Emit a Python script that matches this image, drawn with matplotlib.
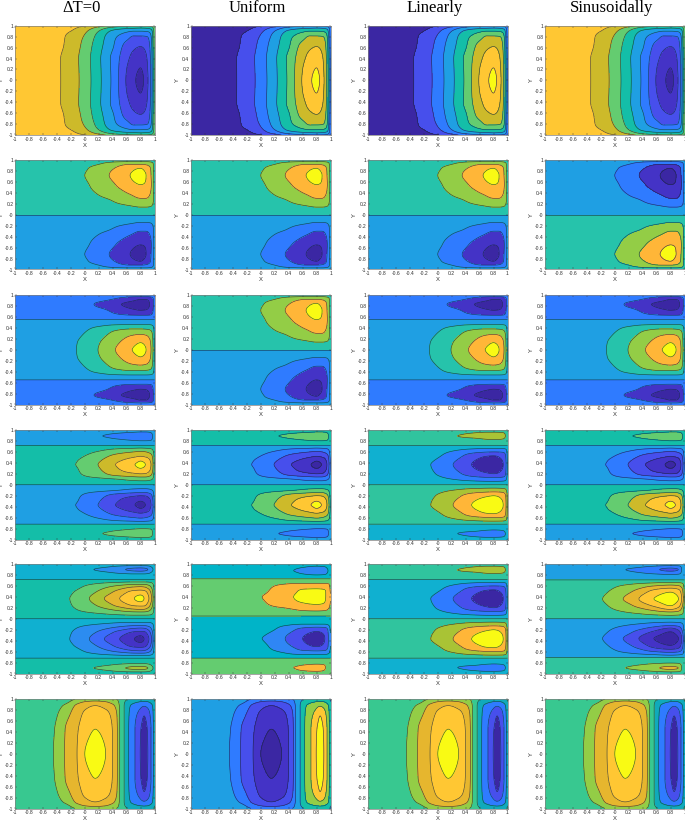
import numpy as np
import matplotlib
matplotlib.use("Agg")
import matplotlib.pyplot as plt

col_titles = ["\u0394T=0", "Uniform", "Linearly", "Sinusoidally"]

# colours
deep = "#3b27a3"
indigo = "#4433c6"
blue1 = "#474fec"
blue2 = "#2f7bff"
blue3 = "#1f9fe3"
cyan = "#10b0d0"
teal = "#14bea8"
tgreen = "#26c3ab"
sea = "#30c49e"
green = "#64cc70"
lime = "#93cd46"
olive = "#a9c335"
gold = "#cdba2a"
amber = "#e6b62e"
orange = "#ffb638"
sun = "#ffc733"
yellow = "#f9fa14"

# ---- field values, in band numbers ----
# row 1, upper half, mirrored
a_x = [-1, -0.4, -0.2, 0, 0.2, 0.4, 0.6, 0.7, 0.8, 0.9, 0.95, 1]
a_y = [0, 0.2, 0.4, 0.62, 0.8, 0.9, 0.97, 1]
a_z = [
    [8, 7.6, 7.05, 6.05, 4.75, 3.3, 1.4, 0.7, 0.2, 1.35, 2.7, 5.9],
    [8, 7.6, 7.04, 6.03, 4.73, 3.28, 1.5, 0.85, 0.45, 1.45, 2.75, 5.9],
    [8, 7.6, 7.02, 6.0, 4.7, 3.25, 1.75, 1.15, 0.8, 1.6, 2.8, 5.9],
    [8, 7.7, 7.15, 6.15, 4.85, 3.6, 2.1, 1.7, 1.5, 1.95, 3.0, 6],
    [8, 7.8, 7.2, 6.4, 5.1, 3.8, 2.9, 2.4, 2.4, 2.5, 3.4, 6],
    [8, 7.85, 7.5, 6.7, 5.5, 4.3, 3.7, 3.5, 3.5, 3.6, 4, 6],
    [8, 7.95, 7.75, 7.2, 6.3, 5.4, 5.0, 4.9, 4.8, 4.9, 5.1, 6],
    [8, 8, 7.9, 7.6, 7, 6.2, 5.8, 5.7, 5.7, 5.7, 5.8, 6],
]

# row 2, upper half, lower half is 7 - z
b_x = [-1, -0.5, 0, 0.2, 0.35, 0.5, 0.65, 0.8, 0.88, 0.95, 0.98, 1]
b_y = [0, 0.03, 0.14, 0.3, 0.45, 0.55, 0.72, 0.85, 0.92, 0.97, 1]
b_z = [
    [3.5] * 12,
    [4, 4, 4.05, 4.05, 4.1, 4.1, 4.1, 4.1, 4.1, 4.1, 4.05, 4],
    [4, 4, 4.1, 4.15, 4.2, 4.3, 4.4, 4.5, 4.5, 4.45, 4.3, 4],
    [4, 4, 4.2, 4.4, 4.55, 4.9, 5.2, 5.5, 5.5, 5.2, 4.7, 4.1],
    [4, 4, 4.35, 4.65, 5.0, 5.4, 5.8, 6.1, 6.0, 5.5, 4.8, 4.1],
    [4, 4, 4.4, 4.8, 5.2, 5.7, 6.2, 6.5, 6.4, 5.6, 4.85, 4.1],
    [4, 4.05, 4.5, 5.0, 5.5, 6.0, 6.5, 6.9, 6.5, 5.5, 4.8, 4.1],
    [4, 4, 4.4, 4.9, 5.3, 5.7, 6.2, 6.5, 6.1, 5.4, 4.7, 4.1],
    [4, 4, 4.2, 4.5, 4.9, 5.3, 5.5, 5.5, 5.4, 5.0, 4.6, 4.1],
    [4, 4, 4.05, 4.2, 4.35, 4.45, 4.5, 4.5, 4.5, 4.4, 4.3, 4.05],
    [4] * 12,
]

# row 3, upper half, mirrored
c_x = [-1, -0.5, -0.12, 0.19, 0.44, 0.68, 0.8, 0.88, 0.95, 0.98, 1]
c_y = [0, 0.13, 0.28, 0.38, 0.46, 0.52, 0.55, 0.58, 0.63, 0.72, 0.83, 0.92, 0.97, 1]
c_z = [
    [3, 3.15, 3.5, 4.5, 5.5, 6.5, 7, 6.5, 5.5, 4.5, 3.2],
    [3, 3.15, 3.48, 4.4, 5.3, 6.1, 6.5, 6.2, 5.4, 4.4, 3.2],
    [3, 3.1, 3.35, 4.05, 4.85, 5.4, 5.5, 5.4, 4.9, 4.2, 3.15],
    [3, 3.05, 3.2, 3.75, 4.3, 4.5, 4.5, 4.45, 4.3, 3.9, 3.1],
    [3, 3, 3.05, 3.25, 3.45, 3.5, 3.5, 3.5, 3.45, 3.3, 3.05],
    [2.85] * 11,
    [2.5] * 11,
    [2.15, 2.15, 2.15, 2.1, 2.05, 2.0, 2.0, 2.0, 2.0, 2.05, 2.15],
    [2, 2, 2, 1.9, 1.65, 1.52, 1.5, 1.5, 1.55, 1.75, 2],
    [2, 2, 2, 1.75, 1.25, 0.65, 0.5, 0.55, 0.95, 1.5, 1.95],
    [2, 2, 2, 1.35, 0.7, 0.2, 0.1, 0.2, 0.7, 1.4, 1.9],
    [2, 2, 2, 1.8, 1.4, 0.8, 0.5, 0.5, 0.9, 1.4, 1.9],
    [2, 2, 2, 1.95, 1.75, 1.55, 1.5, 1.5, 1.6, 1.75, 1.95],
    [2] * 11,
]

# row 4 columns 1, 2, 4, upper half, lower half is 9 - z
d_x = [-1, -0.5, -0.13, 0.19, 0.44, 0.72, 0.8, 0.87, 0.95, 0.98, 1]
d_y = [0, 0.04, 0.1, 0.2, 0.3, 0.37, 0.44, 0.52, 0.61, 0.67, 0.72, 0.76, 0.82, 0.89, 0.96, 1]
d_z = [
    [4.5] * 11,
    [5, 5, 5, 5.05, 5.1, 5.15, 5.15, 5.15, 5.15, 5.1, 5],
    [5, 5.05, 5.2, 5.3, 5.45, 5.75, 5.8, 5.8, 5.6, 5.4, 5.05],
    [5, 5.1, 5.38, 6.1, 6.9, 7.4, 7.5, 7.45, 6.8, 6.0, 5.05],
    [5, 5.15, 5.45, 6.4, 7.35, 8.3, 8.5, 8.3, 7.4, 6.4, 5.1],
    [5, 5.15, 5.5, 6.5, 7.5, 8.5, 8.8, 8.5, 7.5, 6.5, 5.1],
    [5, 5.1, 5.45, 6.35, 7.25, 8.1, 8.45, 8.2, 7.3, 6.4, 5.1],
    [5, 5.05, 5.3, 6.0, 6.8, 7.35, 7.5, 7.35, 6.9, 6.1, 5.05],
    [5, 5, 5.1, 5.5, 6.0, 6.4, 6.5, 6.4, 6.0, 5.6, 5.05],
    [5, 5, 5, 5.1, 5.3, 5.45, 5.5, 5.45, 5.35, 5.2, 5],
    [4.5] * 11,
    [4] * 11,
    [4, 4, 4, 4, 3.65, 3.4, 3.35, 3.35, 3.45, 3.65, 4],
    [4, 4, 4, 3.6, 3.2, 3.0, 3.0, 3.0, 3.3, 3.6, 4],
    [4, 4, 4, 3.95, 3.7, 3.5, 3.45, 3.45, 3.55, 3.7, 4],
    [4] * 11,
]

# rows 4 and 5 column 3, upper half, lower half is 7 - z
e_x = [-1, -0.5, -0.1, 0.22, 0.485, 0.7, 0.8, 0.94, 0.98, 1]
e_y = [0, 0.04, 0.1, 0.2, 0.37, 0.53, 0.6, 0.665, 0.72, 0.76, 0.82, 0.89, 0.96, 1]
e_z = [
    [3.5] * 10,
    [3, 3, 2.95, 2.9, 2.85, 2.8, 2.8, 2.85, 2.9, 3],
    [3, 2.95, 2.8, 2.5, 2.2, 2.05, 2.0, 2.1, 2.4, 2.95],
    [3, 2.9, 2.6, 1.9, 1.05, 0.6, 0.5, 0.85, 1.7, 2.9],
    [3, 2.85, 2.5, 1.5, 0.5, 0.05, 0, 0.5, 1.5, 2.85],
    [3, 2.95, 2.75, 2.05, 1.05, 0.55, 0.5, 0.9, 1.7, 2.9],
    [3, 3, 2.85, 2.4, 1.8, 1.55, 1.5, 1.6, 2.0, 2.9],
    [3, 3, 3, 2.85, 2.65, 2.52, 2.5, 2.55, 2.7, 2.95],
    [3.5] * 10,
    [4] * 10,
    [4, 4, 4, 4, 4.1, 4.4, 4.45, 4.4, 4.2, 4],
    [4, 4, 4, 4.4, 4.85, 5, 5, 4.7, 4.4, 4],
    [4, 4, 4, 4.05, 4.35, 4.5, 4.5, 4.45, 4.3, 4],
    [4] * 10,
]

# row 5 column 1, upper half, lower half is 11 - z
f_x = [-1, -0.5, -0.215, 0.065, 0.28, 0.5, 0.71, 0.8, 0.85, 0.92, 0.96, 0.98, 1]
f_y = [0, 0.04, 0.1, 0.17, 0.25, 0.37, 0.48, 0.57, 0.65, 0.72, 0.76, 0.82, 0.9, 0.97, 1]
f_z = [
    [5.5] * 13,
    [6, 6, 6, 6.02, 6.05, 6.1, 6.15, 6.15, 6.15, 6.15, 6.1, 6.05, 6],
    [6, 6.05, 6.2, 6.4, 6.6, 6.85, 7, 7, 7, 6.9, 6.7, 6.5, 6.05],
    [6, 6.1, 6.35, 6.85, 7.3, 7.85, 8.4, 8.5, 8.45, 7.9, 7.3, 6.9, 6.1],
    [6, 6.15, 6.45, 7.2, 7.95, 8.9, 9.65, 9.75, 9.7, 8.9, 7.9, 7.2, 6.1],
    [6, 6.2, 6.5, 7.5, 8.5, 9.5, 10.5, 10.9, 10.5, 9.5, 8.5, 7.5, 6.1],
    [6, 6.1, 6.4, 7.2, 8.0, 9.0, 9.9, 10, 9.9, 9.1, 8.1, 7.3, 6.1],
    [6, 6.05, 6.2, 6.8, 7.4, 8.1, 8.7, 8.8, 8.7, 8.1, 7.4, 6.9, 6.05],
    [6, 6, 6.05, 6.3, 6.55, 6.8, 7, 7, 7, 6.85, 6.6, 6.4, 6],
    [5.5] * 13,
    [5] * 13,
    [5, 5, 5, 5, 4.85, 4.6, 4.5, 4.5, 4.5, 4.6, 4.8, 4.9, 5],
    [5, 5, 5, 4.6, 4.2, 3.7, 3.2, 3.1, 3.2, 3.6, 4.2, 4.5, 5],
    [5, 5, 5, 5, 4.85, 4.6, 4.5, 4.5, 4.5, 4.6, 4.8, 4.9, 5],
    [5] * 13,
]

# row 5 column 2, not symmetric so all of it
g_x = [-1, -0.5, 0.02, 0.2, 0.35, 0.47, 0.6, 0.8, 0.92, 0.97, 1]
g_y = [-1, -0.96, -0.89, -0.83, -0.77, -0.72, -0.62, -0.5, -0.36, -0.2, -0.1, 0,
       0.05, 0.09, 0.18, 0.28, 0.4, 0.5, 0.6, 0.69, 0.73, 0.76, 0.8, 0.88, 0.95, 1]
g_z = [
    [4] * 11,
    [4, 4, 4, 4, 4, 4.2, 4.4, 4.5, 4.4, 4.2, 4],
    [4, 4, 4, 4, 4.2, 4.5, 4.8, 5, 4.55, 4.15, 4],
    [4, 4, 4, 4, 4, 4.1, 4.35, 4.5, 4.45, 4.2, 4],
    [4] * 11,
    [3.5] * 11,
    [3, 3, 2.9, 2.7, 2.45, 2.2, 2.05, 2.0, 2.05, 2.3, 2.8],
    [3, 3, 2.7, 2.2, 1.75, 1.4, 0.8, 0.45, 0.7, 1.6, 2.6],
    [3, 2.95, 2.5, 2.0, 1.5, 1.05, 0.5, 0.1, 0.5, 1.5, 2.5],
    [3, 3, 2.8, 2.5, 2.0, 1.6, 1.1, 0.7, 0.9, 1.7, 2.7],
    [3, 3, 2.9, 2.75, 2.65, 2.55, 2.5, 2.5, 2.5, 2.6, 2.85],
    [3, 3, 3, 3, 3, 2.95, 2.9, 2.9, 2.9, 2.95, 3],
    [3.5] * 11,
    [3.95] * 11,
    [4, 4, 4.15, 4.3, 4.4, 4.55, 4.75, 4.85, 4.75, 4.5, 4.2],
    [4, 4.05, 4.4, 4.7, 4.95, 5.25, 5.45, 5.6, 5.45, 4.9, 4.4],
    [4, 4.1, 4.5, 4.8, 5.1, 5.5, 5.8, 6, 5.6, 5, 4.5],
    [4, 4.05, 4.35, 4.7, 5.0, 5.3, 5.7, 5.8, 5.6, 4.9, 4.4],
    [4, 4, 4.2, 4.5, 4.7, 4.85, 4.95, 5, 4.95, 4.75, 4.3],
    [4] * 11,
    [3.5] * 11,
    [3] * 11,
    [3, 3, 3, 3, 3, 2.9, 2.65, 2.5, 2.55, 2.75, 3],
    [3, 3, 3, 3, 2.8, 2.5, 2.2, 2.0, 2.2, 2.55, 3],
    [3, 3, 3, 3, 2.95, 2.8, 2.6, 2.4, 2.5, 2.75, 3],
    [3] * 11,
]

# row 5 column 4, upper half, lower half is 9 - z
h_x = [-1, -0.5, -0.175, 0.12, 0.345, 0.56, 0.8, 0.915, 0.96, 0.985, 1]
h_y = [0, 0.04, 0.1, 0.17, 0.25, 0.36, 0.5, 0.58, 0.65, 0.71, 0.75, 0.81, 0.9, 0.97, 1]
h_z = [
    [4.5] * 11,
    [5, 5, 5, 5.05, 5.1, 5.15, 5.2, 5.15, 5.1, 5.05, 5],
    [5, 5, 5.15, 5.35, 5.55, 5.8, 6.0, 5.9, 5.7, 5.4, 5],
    [5, 5.1, 5.3, 5.7, 6.2, 6.8, 7.5, 7.0, 6.3, 5.6, 5.05],
    [5, 5.15, 5.4, 6.05, 6.9, 7.75, 8.6, 7.9, 7.0, 6.0, 5.05],
    [5, 5.2, 5.5, 6.5, 7.5, 8.5, 9.0, 8.5, 7.5, 6.5, 5.1],
    [5, 5.1, 5.35, 6.05, 6.85, 7.8, 8.4, 7.9, 7.1, 6.1, 5.05],
    [5, 5.05, 5.2, 5.7, 6.2, 6.8, 7.1, 6.9, 6.4, 5.8, 5.05],
    [5, 5, 5.05, 5.2, 5.4, 5.6, 5.85, 5.7, 5.55, 5.35, 5],
    [4.5] * 11,
    [4] * 11,
    [4, 4, 4, 3.9, 3.75, 3.6, 3.5, 3.55, 3.7, 3.9, 4],
    [4, 4, 4, 3.55, 3.2, 2.7, 2.2, 2.5, 3.55, 3.8, 4],
    [4, 4, 4, 4, 3.85, 3.65, 3.5, 3.55, 3.7, 3.9, 4],
    [4] * 11,
]

# row 6, upper half, mirrored
k_x = [-1, -0.45, -0.29, -0.11, 0, 0.15, 0.3, 0.4, 0.47, 0.5, 0.565, 0.63, 0.72,
       0.795, 0.85, 0.905, 0.95, 0.985, 1]
k_y = [0, 0.45, 0.7, 0.88, 0.95, 1]
k_z = [
    [4, 4.5, 5.5, 6.5, 7.5, 8, 7.5, 6.5, 5.5, 4.5, 3.5, 2.5, 1.5, 0.5, 0, 0.5, 1.5, 2.5, 3.5],
    [4, 4.45, 5.45, 6.4, 7.0, 7.5, 7.1, 6.45, 5.45, 4.5, 3.5, 2.5, 1.5, 0.6, 0.2, 0.6, 1.5, 2.5, 3.5],
    [4, 4.3, 5.1, 6.1, 6.7, 7.0, 6.8, 6.25, 5.35, 4.5, 3.5, 2.55, 1.7, 1.1, 0.5, 1.0, 1.75, 2.6, 3.5],
    [4, 4.1, 4.6, 5.7, 6.2, 6.5, 6.2, 5.7, 5.0, 4.4, 3.5, 2.7, 2.1, 1.8, 1.6, 1.8, 2.2, 2.8, 3.5],
    [4, 4.02, 4.2, 5.1, 5.5, 5.65, 5.5, 5.1, 4.7, 4.25, 3.6, 3.1, 2.7, 2.5, 2.45, 2.5, 2.75, 3.1, 3.6],
    [4, 4, 4, 4.6, 5, 5.1, 5, 4.7, 4.4, 4.2, 3.8, 3.4, 3.1, 3, 3, 3, 3.1, 3.4, 3.7],
]

# band colours, lowest band first
a_cold = [deep, indigo, blue1, blue2, blue3, teal, green, gold, sun]
a_warm = [yellow, sun, gold, green, teal, blue3, blue2, blue1, deep]
b_pos = [deep, indigo, blue2, blue3, tgreen, lime, orange, yellow]
d_pos = [deep, indigo, blue1, blue2, blue3, teal, green, gold, sun, yellow]
e_col = [deep, blue1, blue2, cyan, sea, olive, orange, yellow]
f_col = [deep, indigo, blue1, "#3a6cfa", "#2c8cf0", cyan, teal, green, olive, amber, sun, yellow]
g_col = [deep, blue1, "#2f86f5", "#00b4c8", green, orange, yellow]
h_col = [deep, indigo, blue1, blue2, blue3, sea, lime, amber, sun, yellow]
k_col = [deep, blue1, blue2, "#10aabb", "#38c890", lime, amber, sun, yellow]
k_rev = [yellow, sun, lime, teal, blue3, blue2, blue1, indigo, deep]


def whole(ys, z, total=None):
    # lower half from the upper half, same values or total - z
    ys = np.array(ys, dtype=float)
    z = np.array(z, dtype=float)
    low = z[:0:-1] if total is None else total - z[:0:-1]
    return np.concatenate([-ys[:0:-1], ys]), np.vstack([low, z])


def pchip(new, xs, v):
    # shape preserving cubic, so the tops of the lobes come out round
    xs = np.asarray(xs, dtype=float)
    v = np.asarray(v, dtype=float)
    h = np.diff(xs)
    s = np.diff(v) / h
    m = np.zeros(len(v))
    for i in range(1, len(v) - 1):
        if s[i - 1] * s[i] > 0:
            w1 = 2 * h[i] + h[i - 1]
            w2 = h[i] + 2 * h[i - 1]
            m[i] = (w1 + w2) / (w1 / s[i - 1] + w2 / s[i])
    m[0] = s[0]
    m[-1] = s[-1]
    i = np.clip(np.searchsorted(xs, new) - 1, 0, len(h) - 1)
    t = (new - xs[i]) / h[i]
    return ((2 * t**3 - 3 * t**2 + 1) * v[i] + (t**3 - 2 * t**2 + t) * h[i] * m[i]
            + (3 * t**2 - 2 * t**3) * v[i + 1] + (t**3 - t**2) * h[i] * m[i + 1])


def finer(xs, ys, z):
    # contourf on the coarse table looks faceted, so round it off a little
    fx = np.linspace(-1, 1, 241)
    fy = np.linspace(-1, 1, 241)
    t = np.array([pchip(fx, xs, row) for row in z])
    t = np.array([pchip(fy, ys, t[:, j]) for j in range(t.shape[1])]).T
    n = 1
    w = np.ones(2 * n + 1) / (2 * n + 1)
    for axis in (0, 1):
        t = np.pad(t, [(n, n) if i == axis else (0, 0) for i in (0, 1)], mode="edge")
        t = np.apply_along_axis(lambda v: np.convolve(v, w, mode="valid"), axis, t)
    return fx, fy, t


a = (a_x, *whole(a_y, a_z))
b = (b_x, *whole(b_y, b_z, 7))
c = (c_x, *whole(c_y, c_z))
d = (d_x, *whole(d_y, d_z, 9))
e = (e_x, *whole(e_y, e_z, 7))
f = (f_x, *whole(f_y, f_z, 11))
g = (g_x, g_y, g_z)
h = (h_x, *whole(h_y, h_z, 9))
k = (k_x, *whole(k_y, k_z))

panels = [
    [(a, a_cold), (a, a_warm), (a, a_warm), (a, a_cold)],
    [(b, b_pos), (b, b_pos), (b, b_pos), (b, b_pos[::-1])],
    [(c, b_pos), (b, b_pos), (c, b_pos), (c, b_pos)],
    [(d, d_pos), (d, d_pos[::-1]), (e, e_col), (d, d_pos[::-1])],
    [(f, f_col), (g, g_col), (e, e_col), (h, h_col)],
    [(k, k_col), (k, k_rev), (k, k_col), (k, k_col)],
]

W, H = 685, 821
col_left = [15, 191, 368, 545]
col_width = 139.5
row_top = [25.7, 160, 295, 430, 564, 699]
row_height = 109.5
ticks = np.round(np.arange(-1, 1.01, 0.2), 1)
tick_text = ["%g" % t for t in ticks]

fig = plt.figure(figsize=(W / 100, H / 100), dpi=100)
plt.rcParams["font.family"] = ["Liberation Sans", "DejaVu Sans"]

for i, row in enumerate(panels):
    for j, (field, cols) in enumerate(row):
        ax = fig.add_axes([col_left[j] / W, 1 - (row_top[i] + row_height) / H,
                           col_width / W, row_height / H])
        fx, fy, t = finer(*field)
        n = len(cols)
        levels = np.arange(n + 1) - 0.5
        ax.contourf(fx, fy, np.clip(t, -0.49, n - 0.51), levels=levels, colors=cols)
        ax.contour(fx, fy, t, levels=levels[1:-1], colors="#16263a", linewidths=0.45, alpha=0.8)
        ax.set_xlim(-1, 1)
        ax.set_ylim(-1, 1)
        ax.set_xticks(ticks)
        ax.set_yticks(ticks)
        ax.set_xticklabels(tick_text)
        ax.set_yticklabels(tick_text)
        ax.tick_params(direction="in", length=1.2, width=0.3, labelsize=3.6, pad=1.2,
                       top=True, right=True, colors="#303030")
        for s in ax.spines.values():
            s.set_linewidth(0.5)
            s.set_color("#808080")
        ax.set_xlabel("X", fontsize=4.2, labelpad=0.8, color="#303030")
        ax.set_ylabel("Y", fontsize=4.2, labelpad=0.6, color="#303030")

title_x = [82, 257, 435, 612]
for x, name in zip(title_x, col_titles):
    fig.text(x / W, 1 - 7.5 / H, name, ha="center", va="center", fontsize=12,
             family=["Liberation Serif", "DejaVu Serif"])

fig.savefig("out.png", dpi=100)
